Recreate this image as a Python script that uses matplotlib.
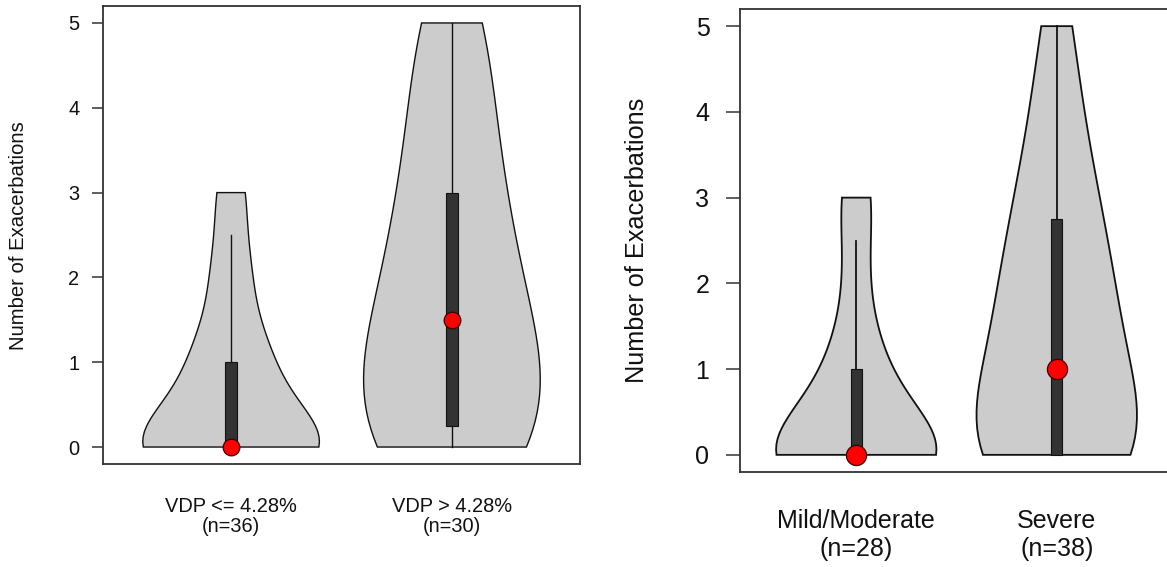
import numpy as np
import matplotlib
matplotlib.use("Agg")
import matplotlib.pyplot as plt
from matplotlib.patches import Rectangle

plt.rcParams['font.family'] = ['Liberation Sans', 'DejaVu Sans']

# ---- data (number of patients with 0..5 exacerbations) ----
values = [0, 1, 2, 3, 4, 5]
left_names = ["VDP <= 4.28%", "VDP > 4.28%"]
left_low_counts = [21, 8, 4, 3, 0, 0]     # n=36
left_high_counts = [8, 7, 5, 4, 3, 3]     # n=30
right_names = ["Mild/Moderate", "Severe"]
right_mild_counts = [18, 5, 2, 3, 0, 0]   # n=28
right_severe_counts = [13, 8, 7, 5, 3, 2] # n=38
yticks = [0, 1, 2, 3, 4, 5]
ylabel = "Number of Exacerbations"


def expand(counts):
    return np.repeat(np.array(values, dtype=float), counts)


def violin(ax, data, pos, dot_ms, lw):
    lo, hi = data.min(), data.max()
    q1, med, q3 = np.quantile(data, [0.25, 0.5, 0.75])
    iqr = q3 - q1
    upper = min(q3 + 1.5 * iqr, hi)
    lower = max(q1 - 1.5 * iqr, lo)
    n = len(data)
    h = data.std(ddof=1) * (4.0 / (3.0 * n)) ** 0.2
    grid = np.linspace(min(lower, lo), max(upper, hi), 50)
    dens = np.exp(-0.5 * ((grid[:, None] - data[None, :]) / h) ** 2).sum(1)
    half = dens * 0.4 / dens.max()
    xs = np.concatenate([pos - half, (pos + half)[::-1]])
    ys = np.concatenate([grid, grid[::-1]])
    ax.fill(xs, ys, facecolor="#CCCCCC", edgecolor="#111111", lw=lw, zorder=2)
    ax.plot([pos, pos], [lower, upper], color="#111111", lw=lw, zorder=3)
    ax.add_patch(Rectangle((pos - 0.027, q1), 0.054, q3 - q1, facecolor="#333333",
                           edgecolor="#111111", lw=0.8, zorder=4))
    ax.plot([pos], [med], "o", ms=dot_ms, mfc="#FF0000", mec="#3a0000", mew=0.9,
            zorder=5, clip_on=False)


def panel(ax, groups, names, fs, ticklen, tickpad, xpad, lsp, dot_ms, lw):
    for i, (counts, name) in enumerate(zip(groups, names)):
        violin(ax, expand(counts), i + 1, dot_ms, lw)
    ax.set_xlim(0.42, 2.58)
    ax.set_ylim(-0.2, 5.2)
    ax.set_xticks([1, 2])
    ax.set_xticklabels([f"{nm}\n(n={sum(c)})" for nm, c in zip(names, groups)],
                       fontsize=fs, color="#111111", linespacing=lsp)
    ax.tick_params(axis="x", length=0, pad=xpad)
    ax.set_yticks(yticks)
    ax.set_yticklabels([str(t) for t in yticks], fontsize=fs, color="#111111")
    ax.tick_params(axis="y", direction="out", length=ticklen, width=1.1,
                   color="#333333", pad=tickpad)
    for s in ax.spines.values():
        s.set_color("#333333")
        s.set_linewidth(1.3)


fig = plt.figure(figsize=(11.67, 5.67), dpi=100)
W, H = 1167.0, 567.0

axL = fig.add_axes([103 / W, 1 - 464 / H, 477 / W, 458 / H])
panel(axL, [left_low_counts, left_high_counts], left_names, 14.4, 8, 9, 24, 1.02, 12, 1.0)
fig.text(19 / W, 1 - 236 / H, ylabel, rotation=90, ha="center", va="center",
         fontsize=14.6, color="#111111")

axR = fig.add_axes([740 / W, 1 - 472 / H, 433 / W, 463 / H])
panel(axR, [right_mild_counts, right_severe_counts], right_names, 18, 10, 12, 27, 1.17, 14.5, 1.3)
axR.spines["right"].set_visible(False)
fig.text(637 / W, 1 - 240 / H, ylabel, rotation=90, ha="center", va="center",
         fontsize=18.2, color="#111111")

fig.savefig("out.png", dpi=100)
